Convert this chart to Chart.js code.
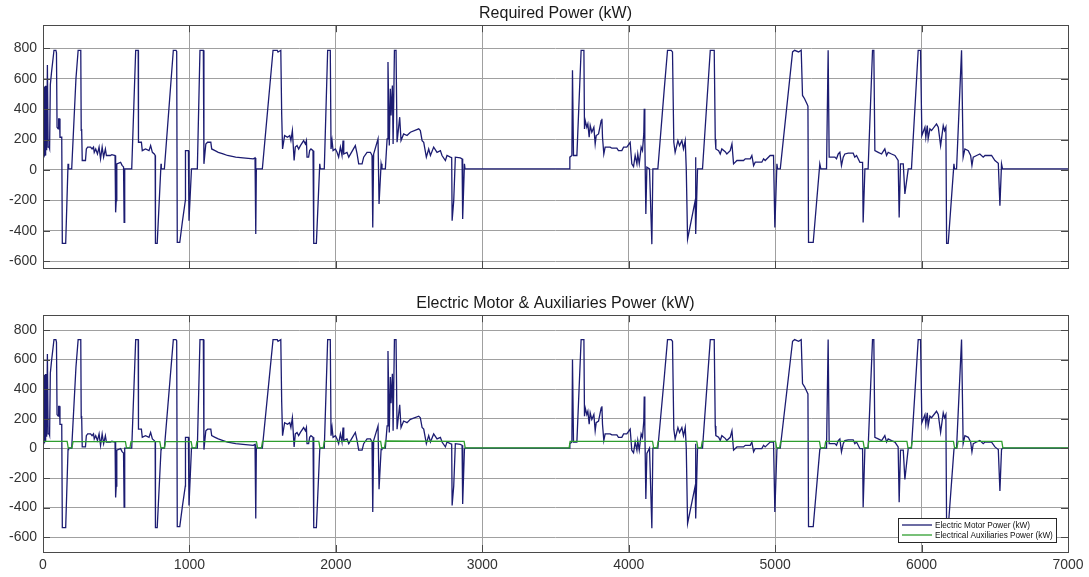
<!DOCTYPE html>
<html><head><meta charset="utf-8">
<script src="https://cdn.jsdelivr.net/npm/chart.js@4.4.0/dist/chart.umd.min.js"></script>
<style>
html,body{margin:0;padding:0;background:#fff;}
#wrap{position:relative;width:1089px;height:577px;overflow:hidden;}
#c1{position:absolute;left:0;top:0;width:1089px;height:290px;}
#c2{position:absolute;left:0;top:290px;width:1089px;height:287px;}
</style></head><body>
<div id="wrap"><canvas id="c1" width="1089" height="290"></canvas><canvas id="c2" width="1089" height="287"></canvas></div>
<script>
const xTicks = [0,1000,2000,3000,4000,5000,6000,7000];
const yTicks = [-600,-400,-200,0,200,400,600,800];

const reqTime = [
0,4,6,9,11,15,18,21,23,27,
30,33,35,42,45,50,58,75,88,92,
96,104,107,113,116,128,132,155,171,175,
196,225,240,258,261,264,268,290,296,305,
325,335,345,350,360,372,383,393,404,414,
426,433,460,470,492,496,500,504,530,540,
550,554,558,606,633,650,652,672,678,700,
724,735,747,760,766,768,780,806,808,829,
890,908,913,917,934,952,972,973,993,997,
1014,1054,1072,1095,1099,1112,1124,1146,1152,1175,
1197,1230,1260,1316,1366,1436,1448,1453,1457,1498,
1571,1600,1605,1624,1630,1636,1650,1670,1685,1693,
1703,1715,1723,1735,1746,1758,1780,1792,1799,1803,
1814,1821,1830,1844,1849,1867,1890,1894,1921,1944,
1962,1967,1974,1981,1997,2008,2019,2031,2042,2049,
2054,2076,2088,2133,2145,2156,2179,2190,2213,2236,
2247,2252,2258,2288,2295,2309,2315,2338,2350,2356,
2365,2372,2377,2386,2391,2400,2411,2418,2436,2445,
2463,2486,2509,2566,2577,2589,2600,2618,2634,2646,
2668,2691,2714,2725,2748,2759,2782,2791,2794,2805,
2816,2850,2862,2866,2878,2882,3593,3598,3612,3616,
3623,3646,3675,3694,3698,3703,3714,3721,3730,3737,
3748,3762,3771,3778,3794,3812,3817,3821,3830,3839,
3873,3885,3919,3930,3953,3965,3987,4010,4021,4033,
4044,4056,4062,4072,4085,4094,4103,4106,4110,4117,
4124,4142,4158,4165,4199,4242,4265,4290,4299,4308,
4317,4336,4347,4363,4374,4386,4393,4402,4454,4456,
4459,4470,4504,4557,4584,4591,4595,4614,4625,4636,
4659,4670,4693,4705,4716,4739,4784,4796,4830,4841,
4853,4864,4909,4921,4932,4966,4989,4998,5012,5017,
5035,5119,5133,5160,5178,5187,5201,5217,5224,5228,
5260,5305,5312,5351,5362,5369,5408,5419,5431,5442,
5453,5465,5476,5499,5533,5544,5556,5579,5597,5601,
5613,5635,5665,5674,5681,5704,5727,5749,5761,5772,
5795,5818,5840,5847,5856,5875,5886,5909,5931,5977,
5993,6002,6023,6029,6039,6045,6057,6068,6102,6114,
6130,6148,6157,6166,6171,6182,6221,6225,6239,6273,
6284,6296,6319,6335,6344,6353,6376,6398,6421,6433,
6478,6501,6524,6535,6546,6553,7000
];
const reqPower = [
84,300,545,545,95,100,550,550,130,135,
690,690,150,150,140,560,640,787,787,770,
281,270,336,336,215,215,-483,-483,40,7,
7,600,787,787,260,270,62,62,138,150,
150,138,150,116,138,105,150,73,150,84,
138,95,95,100,95,-279,-202,40,50,30,
20,-345,7,7,787,787,182,182,127,138,
127,160,116,105,95,-483,-483,40,7,7,
787,787,780,-477,-477,-340,-202,127,127,-334,
7,7,787,787,40,171,182,182,138,127,
116,105,95,84,79,73,79,-422,7,7,
787,787,776,787,369,138,226,215,226,193,
259,62,150,160,138,160,193,171,193,84,
84,127,138,127,-483,-483,40,7,7,787,
787,138,193,127,138,116,84,150,95,193,
105,116,84,160,105,40,40,84,116,116,
95,-378,105,204,-224,40,7,7,204,710,
160,534,358,556,171,787,787,182,347,193,
237,226,248,270,259,193,182,84,138,95,
150,116,127,95,62,95,84,80,-334,-202,
84,79,73,-323,40,7,7,84,95,655,
95,95,787,787,270,325,281,303,215,292,
248,281,171,226,237,325,336,215,105,150,
150,143,143,127,127,150,150,182,40,22,
95,40,105,40,150,127,237,402,200,-290,
18,7,-488,7,7,523,787,787,776,182,
116,193,160,193,138,193,7,-455,-202,84,
-422,7,7,787,787,204,138,127,105,138,
120,105,127,171,40,62,62,73,73,95,
29,51,51,73,62,95,95,-378,40,7,
7,776,787,776,787,490,468,435,420,-477,
-477,40,7,7,787,84,84,73,105,116,
29,84,105,110,110,84,95,50,50,-345,
7,7,787,787,127,116,105,138,95,116,
105,95,62,-312,40,40,-158,7,7,787,
787,226,281,215,292,204,270,259,303,281,
160,292,259,281,-483,-483,40,7,7,787,
84,138,127,95,29,84,95,105,84,95,
95,62,44,-235,40,7,7
];
const motorTime = reqTime;
const motorPower = [
32,248,493,493,43,48,498,498,78,83,
638,638,98,98,88,508,588,735,735,718,
229,218,284,284,163,163,-535,-535,-8,2,
2,548,735,735,208,218,10,10,86,98,
98,86,98,64,86,53,98,21,98,32,
86,43,43,48,43,-331,-254,-12,-2,-22,
-32,-397,2,2,735,735,130,130,75,86,
75,108,64,53,43,-535,-535,-8,2,2,
735,735,728,-529,-529,-392,-254,75,75,-386,
2,2,735,735,-8,119,130,130,86,75,
64,53,43,32,27,21,27,-474,2,2,
735,735,724,735,317,86,174,163,174,141,
207,10,98,108,86,108,141,119,141,32,
32,75,86,75,-535,-535,-8,2,2,735,
735,86,141,75,86,64,32,98,43,141,
53,64,32,108,53,-12,-12,32,64,64,
43,-430,53,152,-276,-8,2,2,152,658,
108,482,306,504,119,735,735,130,295,141,
185,174,196,218,207,141,130,32,86,43,
98,64,75,43,10,43,32,28,-386,-254,
32,27,21,-375,-8,2,2,32,43,600,
43,43,735,735,218,273,229,251,163,240,
196,229,119,174,185,273,284,163,53,98,
98,91,91,75,75,98,98,130,-12,-30,
43,-12,53,-12,98,75,185,350,148,-342,
-34,2,-540,2,2,471,735,735,724,130,
64,141,108,141,86,141,2,-507,-254,32,
-474,2,2,735,735,152,86,75,53,86,
68,53,75,119,-12,10,10,21,21,43,
-23,-1,-1,21,10,43,43,-430,-8,2,
2,724,735,724,735,438,416,383,368,-529,
-529,-8,2,2,735,32,32,21,53,64,
-23,32,53,58,58,32,43,-2,-2,-397,
2,2,735,735,75,64,53,86,43,64,
53,43,10,-364,-12,-12,-210,2,2,735,
735,174,229,163,240,152,218,207,251,229,
108,240,207,229,-535,-535,-8,2,2,735,
32,86,75,43,-23,32,43,53,32,43,
43,10,-8,-287,-8,2,2
];
const auxTime = [
0,165,172,198,205,563,570,594,601,798,805,830,837,
1012,1019,1044,1051,1458,1465,1492,1499,1884,1891,1914,1921,
2306,2313,2332,2339,2876,2883,3593,3600,
4163,4170,4194,4201,4465,4472,4495,4502,5003,5010,5031,5038,
5303,5310,5338,5345,5601,5608,5633,5640,5900,5907,5929,5936,
6218,6225,6242,6249,6548,6555,7000
];
const auxPower = [
48,48,4,4,46,46,4,4,46,46,4,4,46,
46,4,4,46,46,4,4,48,48,4,4,47,
47,4,4,50,48,4,4,47,
47,4,4,47,47,4,4,47,47,4,4,48,
48,4,4,47,47,4,4,47,47,4,4,47,
47,4,4,47,47,4,4
];

const FONT = '"Liberation Sans", Arial, Helvetica, sans-serif';
const GRID = '#a0a0a0';
const BOX = '#4a4a4a';
const NAVY = '#1c1c72';
const GREEN = '#2f9e2f';

function pts(t, v) { return t.map((x, i) => ({x: x, y: v[i]})); }

const boxPlugin = {
  id: 'matBox',
  afterDatasetsDraw(chart) {
    const ctx = chart.ctx, ca = chart.chartArea;
    const xs = chart.scales.x, ys = chart.scales.y;
    ctx.save();
    ctx.strokeStyle = BOX; ctx.lineWidth = 1;
    ctx.beginPath();
    yTicks.forEach(v => {
      const py = Math.round(ys.getPixelForValue(v)) + 0.5;
      ctx.moveTo(ca.left, py); ctx.lineTo(ca.left + 7, py);
      ctx.moveTo(ca.right, py); ctx.lineTo(ca.right - 7, py);
    });
    xTicks.forEach(v => {
      const px = Math.round(xs.getPixelForValue(v)) + 0.5;
      ctx.moveTo(px, ca.bottom); ctx.lineTo(px, ca.bottom - 7);
      ctx.moveTo(px, ca.top); ctx.lineTo(px, ca.top + 7);
    });
    ctx.stroke();
    ctx.strokeRect(Math.round(ca.left) + 0.5, Math.round(ca.top) + 0.5,
                   Math.round(ca.right - ca.left), Math.round(ca.bottom - ca.top));
    ctx.restore();
  }
};

const legendPlugin = {
  id: 'boxLegend',
  afterDraw(chart, args, opts) {
    if (!opts || !opts.show) return;
    const ctx = chart.ctx, ca = chart.chartArea;
    const w = 158, h = 24;
    const x0 = Math.round(ca.right - 12 - w), y0 = Math.round(ca.bottom - 10 - h);
    ctx.save();
    ctx.fillStyle = '#fff'; ctx.fillRect(x0, y0, w, h);
    ctx.strokeStyle = '#262626'; ctx.lineWidth = 1; ctx.strokeRect(x0 + 0.5, y0 + 0.5, w, h);
    ctx.font = '8.2px ' + FONT;
    ctx.textBaseline = 'middle'; ctx.textAlign = 'left';
    chart.data.datasets.forEach((ds, i) => {
      const yy = y0 + 7 + i * 10;
      const col = chart.getDatasetMeta(i).dataset.options.borderColor || ds.borderColor;
      ctx.strokeStyle = col; ctx.lineWidth = 1.3;
      ctx.beginPath(); ctx.moveTo(x0 + 4, yy); ctx.lineTo(x0 + 34, yy); ctx.stroke();
      ctx.fillStyle = '#111';
      ctx.fillText(ds.label, x0 + 37, yy + 0.5);
    });
    ctx.restore();
  }
};

function makeOptions(title, yMin, yMax, showX, padBottom) {
  return {
    responsive: false,
    animation: false,
    events: [],
    layout: { padding: { left: 0, right: 21, top: 0, bottom: padBottom } },
    plugins: {
      legend: { display: false },
      tooltip: { enabled: false },
      title: {
        display: true, text: title, fullSize: false,
        color: '#1a1a1a',
        font: { family: FONT, size: 16, weight: 'normal', lineHeight: 1.2 },
        padding: { top: 4, bottom: 2 }
      },
      boxLegend: { show: showX }
    },
    scales: {
      x: {
        type: 'linear', min: 0, max: 7000,
        afterBuildTicks: s => { s.ticks = xTicks.map(v => ({ value: v })); },
        afterFit: s => { s.height = showX ? 25 : 0; },
        grid: { color: GRID, drawTicks: false, lineWidth: 1 },
        border: { display: false },
        ticks: {
          display: showX, maxRotation: 0, autoSkip: false, padding: 5,
          color: '#333', font: { family: FONT, size: 14 },
          callback: v => String(v)
        }
      },
      y: {
        min: yMin, max: yMax,
        afterBuildTicks: s => { s.ticks = yTicks.map(v => ({ value: v })); },
        afterFit: s => { s.width = 43; },
        grid: { color: GRID, drawTicks: false, lineWidth: 1 },
        border: { display: false },
        ticks: {
          padding: 6, color: '#333', font: { family: FONT, size: 14 },
          callback: v => String(v)
        }
      }
    }
  };
}

new Chart(document.getElementById('c1'), {
  type: 'line',
  data: {
    datasets: [{
      label: 'Required Power (kW)',
      data: pts(reqTime, reqPower),
      borderColor: NAVY, borderWidth: 1.3, pointRadius: 0, tension: 0, fill: false
    }]
  },
  options: makeOptions('Required Power (kW)', -645, 952, false, 22),
  plugins: [boxPlugin, legendPlugin]
});

new Chart(document.getElementById('c2'), {
  type: 'line',
  data: {
    datasets: [{
      label: 'Electric Motor Power (kW)',
      data: pts(motorTime, motorPower),
      borderColor: NAVY, borderWidth: 1.3, pointRadius: 0, tension: 0, fill: false, order: 1
    }, {
      label: 'Electrical Auxiliaries Power (kW)',
      data: pts(auxTime, auxPower),
      borderColor: GREEN, borderWidth: 1.3, pointRadius: 0, tension: 0, fill: false, order: 0
    }]
  },
  options: makeOptions('Electric Motor & Auxiliaries Power (kW)', -700, 900, true, 0),
  plugins: [boxPlugin, legendPlugin]
});
</script>
</body></html>
